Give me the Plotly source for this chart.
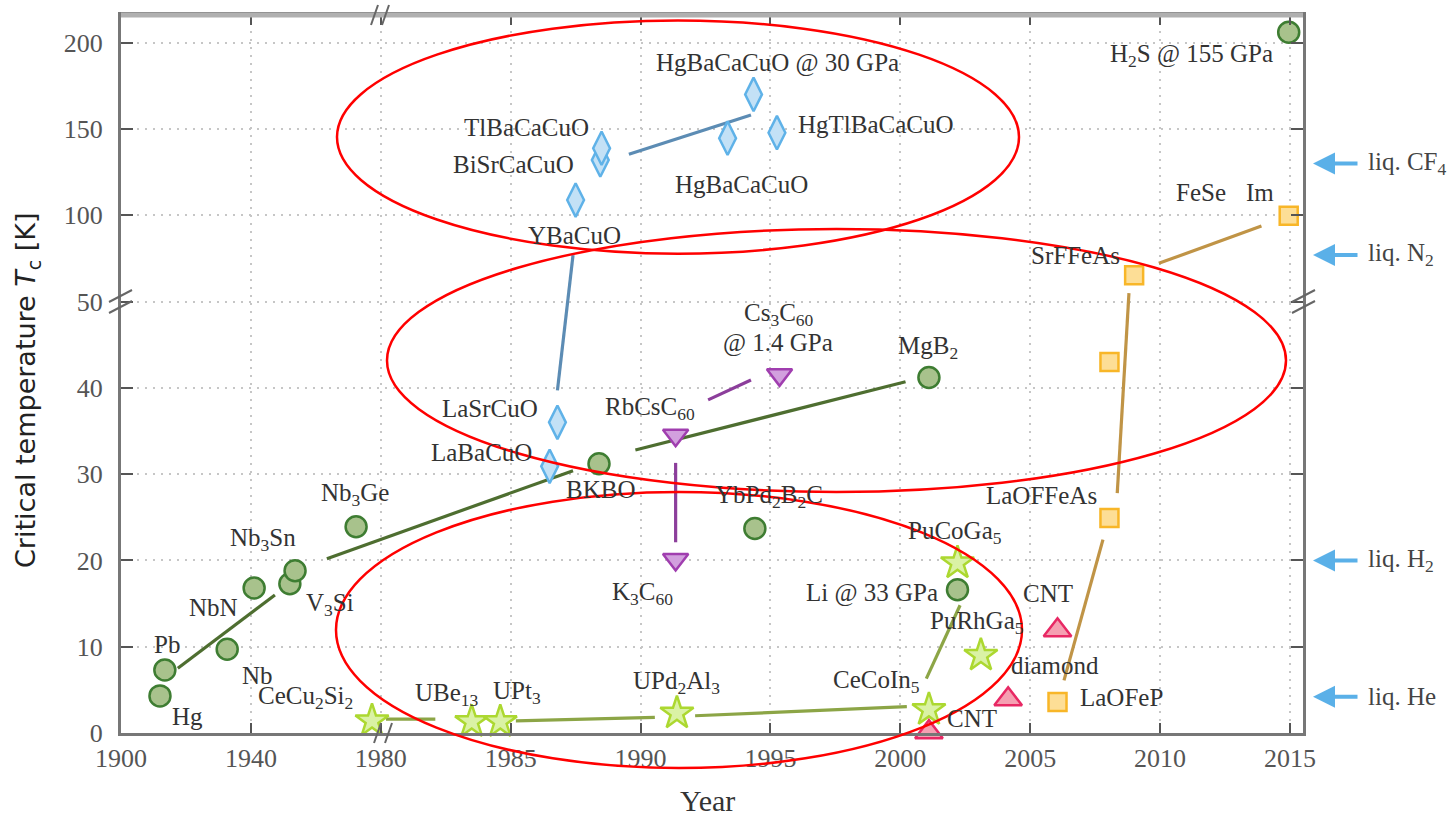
import plotly.graph_objects as go

# ---------------- data ----------------
# conventional (phonon-mediated) superconductors
bcs_names = ["Hg", "Pb", "Nb", "NbN", "V<sub>3</sub>Si", "Nb<sub>3</sub>Sn",
             "Nb<sub>3</sub>Ge", "BKBO", "YbPd<sub>2</sub>B<sub>2</sub>C",
             "MgB<sub>2</sub>", "Li @ 33 GPa", "H<sub>2</sub>S @ 155 GPa"]
bcs_year = [1912.0, 1913.5, 1932.7, 1941.0, 1952.0, 1953.6, 1972.4,
            1988.4, 1994.4, 2001.1, 2002.2, 2014.95]
bcs_tc = [4.3, 7.3, 9.7, 16.8, 17.3, 18.8, 23.9, 31.2, 23.7, 41.2, 16.6, 206.0]

# heavy-fermion superconductors
hf_names = ["CeCu<sub>2</sub>Si<sub>2</sub>", "UBe<sub>13</sub>", "UPt<sub>3</sub>",
            "UPd<sub>2</sub>Al<sub>3</sub>", "CeCoIn<sub>5</sub>",
            "PuRhGa<sub>5</sub>", "PuCoGa<sub>5</sub>"]
hf_year = [1977.3, 1983.5, 1984.6, 1991.4, 2001.1, 2003.1, 2002.2]
hf_tc = [1.4, 1.3, 1.3, 2.3, 2.7, 9.0, 19.7]

# cuprates
cup_names = ["LaBaCuO", "LaSrCuO", "YBaCuO", "BiSrCaCuO", "TlBaCaCuO",
             "HgBaCaCuO", "HgBaCaCuO @ 30 GPa", "HgTlBaCaCuO"]
cup_year = [1986.5, 1986.8, 1987.5, 1988.45, 1988.5, 1993.35, 1994.35, 1995.25]
cup_tc = [30.9, 36.0, 108.8, 132.0, 138.8, 144.6, 170.0, 147.8]

# fullerides
ful_names = ["RbCsC<sub>60</sub>", "K<sub>3</sub>C<sub>60</sub>", "Cs<sub>3</sub>C<sub>60</sub>"]
ful_year = [1991.35, 1991.35, 1995.35]
ful_tc = [34.5, 20.1, 41.5]

# carbon allotropes
carb_names = ["CNT", "diamond", "CNT"]
carb_year = [2001.1, 2004.15, 2006.05]
carb_tc = [0.1, 3.9, 11.9]

# iron-based
fe_names = ["LaOFeP", "LaOFFeAs", "", "SrFFeAs", "FeSe"]
fe_year = [2006.05, 2008.05, 2008.05, 2009.0, 2014.95]
fe_tc = [3.6, 24.9, 43.0, 65.2, 99.7]

# trend segments per family: (year, Tc) start -> end
bcs_trend = [((1917.5, 7.5), (1947.4, 16.0)), ((1963.4, 20.2), (1987.4, 30.4)),
             ((1989.8, 32.8), (2000.2, 40.7))]
hf_trend = [((1980.2, 1.6), (1982.1, 1.6)), ((1985.2, 1.4), (1990.55, 1.8)),
            ((1992.1, 2.0), (2000.25, 3.05)), ((2001.0, 6.3), (2002.3, 14.8))]
cup_trend = [((1986.8, 39.7), (1987.4, 76.9)), ((1989.55, 135.3), (1994.25, 158.1))]
ful_trend = [((1991.35, 31.3), (1991.35, 22.1)), ((1992.6, 38.6), (1994.25, 40.9))]
fe_trend = [((2006.3, 6.1), (2007.8, 22.4)), ((2008.35, 27.8), (2008.8, 54.9)),
            ((2009.95, 72.1), (2013.9, 93.7))]

# boiling points of cryogenic liquids marked on the right
liq_names = ["liq. He", "liq. H<sub>2</sub>", "liq. N<sub>2</sub>", "liq. CF<sub>4</sub>"]
liq_tc = [4.2, 20.0, 77.0, 130.0]

x_ticks = [1900, 1940, 1980, 1985, 1990, 1995, 2000, 2005, 2010, 2015]
y_ticks = [0, 10, 20, 30, 40, 50, 100, 150, 200]

# ---------------- label placement (pixel offsets from each marker) ----------------
bcs_lab = [(28, -21), (2, 26), (30, -26), (-41, -19), (40, -21), (-32, 31),
           (-1, 32), (1, -26), (14, 32), (-1, 30), (-85, -3), (-97, -23)]
hf_lab = [(-67, 23), (-25, 27), (17, 29), (0, 31), (-52, 28), (-4, 33), (-2, 30)]
cup_lab = [(-68, 14), (-67, 14), (-1, -35), (-87, -5), (-75, 21), (14, -46),
           (24, 31), ("left", 19, 8)]
ful_lab = [(-26, 27), (-33, -34), (-1, 60)]
carb_lab = [(43, 14), (47, 34), (-10, 37)]
fe_lab = [("left", 20, 4), (-68, 23), None, (-59, 20), (-88, 23)]


def year_axis(y):
    """Broken time axis: 1900-1980 compressed eightfold."""
    return y if y >= 1980 else 1980 + (y - 1980) / 8.0


def tc_axis(t):
    """Broken Tc axis: above 50 K compressed fivefold."""
    return t if t <= 50 else 50 + (t - 50) / 5.0


# plot-area edges in pixels, used for decorations placed in paper space
L, R, T, B = 121, 1303, 15, 733


def px_x(p):
    return (p - L) / (R - L)


def px_y(p):
    return (B - p) / (B - T)


SERIF = "Liberation Serif, Times New Roman, serif"
TXT = "#333333"

families = [
    dict(names=bcs_names, year=bcs_year, tc=bcs_tc, trend=bcs_trend, lab=bcs_lab,
         symbol="circle", size=21, fill="rgb(168,194,140)", edge="rgb(62,125,50)",
         line="rgb(78,110,48)"),
    dict(names=hf_names, year=hf_year, tc=hf_tc, trend=hf_trend, lab=hf_lab,
         symbol="star", size=25, fill="rgb(218,242,165)", edge="rgb(172,216,48)",
         line="rgb(140,165,70)"),
    dict(names=cup_names, year=cup_year, tc=cup_tc, trend=cup_trend, lab=cup_lab,
         symbol="diamond-tall", size=24, fill="rgb(195,225,246)", edge="rgb(95,178,232)",
         line="rgb(92,140,180)"),
    dict(names=ful_names, year=ful_year, tc=ful_tc, trend=ful_trend, lab=ful_lab,
         symbol="triangle-down", size=22, fill="rgb(210,160,222)", edge="rgb(160,62,175)",
         line="rgb(140,62,155)"),
    dict(names=carb_names, year=carb_year, tc=carb_tc, trend=[], lab=carb_lab,
         symbol="triangle-up", size=24, fill="rgb(245,160,178)", edge="rgb(232,40,100)",
         line="rgb(232,40,100)"),
    dict(names=fe_names, year=fe_year, tc=fe_tc, trend=fe_trend, lab=fe_lab,
         symbol="square", size=18, fill="rgb(253,222,150)", edge="rgb(248,182,40)",
         line="rgb(192,148,70)"),
]

fig = go.Figure()

# trend lines first so the markers sit on top
for fam in families:
    xs, ys = [], []
    for (y0, t0), (y1, t1) in fam["trend"]:
        xs += [year_axis(y0), year_axis(y1), None]
        ys += [tc_axis(t0), tc_axis(t1), None]
    if xs:
        fig.add_trace(go.Scatter(x=xs, y=ys, mode="lines", cliponaxis=False,
                                 line=dict(color=fam["line"], width=3.2),
                                 hoverinfo="skip", showlegend=False))

annotations = []
for fam in families:
    fig.add_trace(go.Scatter(
        x=[year_axis(v) for v in fam["year"]], y=[tc_axis(v) for v in fam["tc"]],
        mode="markers", cliponaxis=False, showlegend=False,
        text=fam["names"], hoverinfo="text",
        marker=dict(symbol=fam["symbol"], size=fam["size"], color=fam["fill"],
                    line=dict(color=fam["edge"], width=2.5))))
    for name, yr, tc, lab in zip(fam["names"], fam["year"], fam["tc"], fam["lab"]):
        if not name or lab is None:
            continue
        anchor = "center"
        if lab[0] == "left":
            anchor, dx, dy = "left", lab[1], lab[2]
        else:
            dx, dy = lab
        annotations.append(dict(x=year_axis(yr), y=tc_axis(tc), xref="x", yref="y",
                                text=name, showarrow=False, xanchor=anchor,
                                yanchor="middle", xshift=dx, yshift=dy,
                                font=dict(family=SERIF, size=25, color=TXT)))

# second line of the Cs3C60 label and the film note next to FeSe
annotations.append(dict(x=year_axis(ful_year[2]), y=tc_axis(ful_tc[2]), xref="x", yref="y",
                        text="@ 1.4 GPa", showarrow=False, xshift=-2, yshift=32,
                        yanchor="middle",
                        font=dict(family=SERIF, size=25, color=TXT)))
annotations.append(dict(x=year_axis(fe_year[4]), y=tc_axis(fe_tc[4]), xref="x", yref="y",
                        text="Im", showarrow=False, xshift=-29, yshift=23,
                        yanchor="middle",
                        font=dict(family=SERIF, size=25, color=TXT)))

# cryogen reference arrows on the right-hand side
for name, tc in zip(liq_names, liq_tc):
    annotations.append(dict(x=px_x(1313), y=tc_axis(tc), xref="paper", yref="y",
                            ax=46, ay=0, axref="pixel", ayref="pixel", text="",
                            showarrow=True, arrowhead=2, arrowsize=1.1, arrowwidth=4,
                            arrowcolor="rgb(90,176,232)"))
    annotations.append(dict(x=px_x(1366), y=tc_axis(tc), xref="paper", yref="y",
                            text=name, showarrow=False, xanchor="left", yanchor="middle",
                            font=dict(family=SERIF, size=25, color="#444444")))

# axis titles
annotations.append(dict(x=px_x(707), y=px_y(801), xref="paper", yref="paper",
                        text="Year", showarrow=False, xanchor="center", yanchor="middle",
                        font=dict(family=SERIF, size=30, color=TXT)))
annotations.append(dict(x=px_x(27), y=px_y(390), xref="paper", yref="paper",
                        text="Critical temperature <i>T</i><sub>c</sub> [K]",
                        textangle=-90, showarrow=False, xanchor="center", yanchor="middle",
                        font=dict(family="DejaVu Sans", size=27, color="#222222")))

shapes = []
# light upper frame line
shapes.append(dict(type="line", xref="paper", yref="paper", x0=0, x1=1, y0=1, y1=1,
                   line=dict(color="#b0b0b0", width=5)))
# axis-break marks
breaks = [
    [(371, 25), (378, 5)], [(382, 25), (389, 5)],          # top, at 1980
    [(374, 743), (381, 723)], [(385, 743), (392, 723)],    # bottom, at 1980
    [(109, 302), (132, 290)], [(109, 313), (132, 301)],    # left, at 50 K
    [(1292, 302), (1315, 290)], [(1292, 313), (1315, 301)],  # right, at 50 K
]
for (xa, ya), (xb, yb) in breaks:
    shapes.append(dict(type="line", xref="paper", yref="paper",
                       x0=px_x(xa), y0=px_y(ya), x1=px_x(xb), y1=px_y(yb),
                       line=dict(color="#666666", width=2)))
# red outlines grouping the three eras
for x0, x1, y0, y1 in [(337, 1019, 20.5, 253.7), (387, 1286, 229, 492), (336, 1022, 492, 768)]:
    shapes.append(dict(type="circle", xref="paper", yref="paper",
                       x0=px_x(x0), x1=px_x(x1), y0=px_y(y1), y1=px_y(y0),
                       line=dict(color="#ff0000", width=2.5), layer="above"))

tick_font = dict(family=SERIF, size=26, color="#555555")
grid = dict(showgrid=True, gridcolor="#c6c6c6", gridwidth=2, griddash="2px,6px",
            zeroline=False, showline=True, linecolor="#777777", linewidth=3,
            mirror="ticks", ticks="inside", tickwidth=2, tickcolor="#555555",
            tickfont=tick_font)

fig.update_layout(
    width=1453, height=819,
    margin=dict(l=L, r=1453 - R, t=T, b=819 - B),
    plot_bgcolor="white", paper_bgcolor="white",
    font=dict(family=SERIF, color=TXT),
    showlegend=False,
    xaxis=dict(range=[1970, 2015.5], tickmode="array",
               tickvals=[year_axis(v) for v in x_ticks],
               ticktext=[str(v) for v in x_ticks], ticklen=10,
               ticklabelstandoff=0, **grid),
    yaxis=dict(range=[0, 83.2], tickmode="array",
               tickvals=[tc_axis(v) for v in y_ticks],
               ticktext=[str(v) for v in y_ticks], ticklen=12,
               ticklabelstandoff=10, **grid),
    annotations=annotations,
    shapes=shapes,
)

fig.write_html("out.html")
